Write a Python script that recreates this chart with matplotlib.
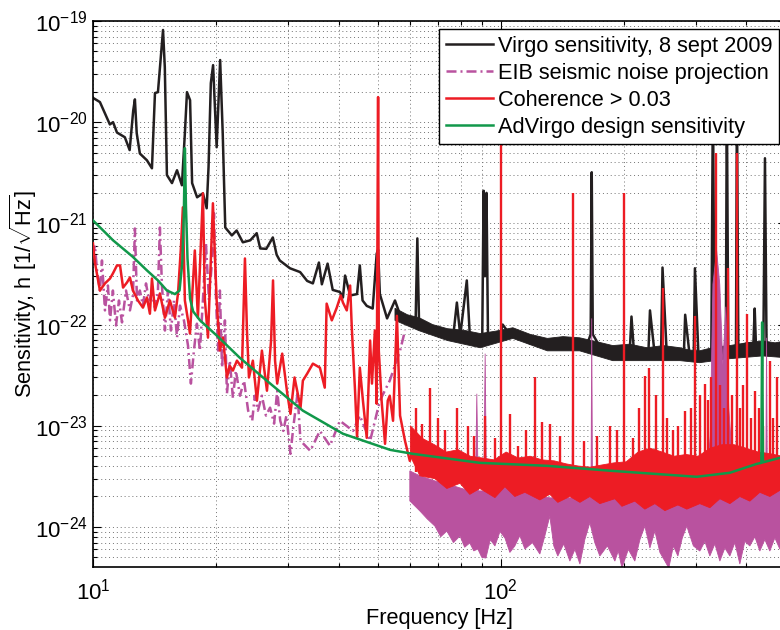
import numpy as np
import matplotlib
matplotlib.use("Agg")
import matplotlib.pyplot as plt
from matplotlib.ticker import NullFormatter

plt.rcParams['font.family'] = ['Liberation Sans', 'DejaVu Sans']
plt.rcParams['mathtext.fontset'] = 'custom'
plt.rcParams['mathtext.rm'] = 'Liberation Sans'
plt.rcParams['mathtext.it'] = 'Liberation Sans:italic'
plt.rcParams['mathtext.bf'] = 'Liberation Sans:bold'

BLACK = '#231f20'
PINK = '#b9529f'
RED = '#ed1c24'
GREEN = '#11984a'

# ---- Virgo sensitivity, 8 sept 2009 ----
virgo_f = [10.0, 10.4, 11.0, 11.2, 11.45, 11.97, 12.3, 12.55, 12.67, 12.8,
           13.03, 13.56, 13.95, 14.19, 14.43, 14.85, 15.0, 15.18, 15.62, 16.07,
           16.52, 16.8, 17.0, 17.3, 17.5, 18.0, 18.6, 19.0, 19.2, 19.45,
           19.7, 20.1, 20.5, 20.8, 21.1, 21.9, 22.5, 23.3, 24.3, 25.2,
           25.7, 26.6, 27.6, 28.2, 28.7, 30.4, 32.2, 33.5, 34.6, 35.8,
           36.4, 37.6, 38.7, 40.3, 41.0, 41.5, 42.7, 44.4, 45.1, 45.8,
           46.9, 48.5, 49.6, 50.0, 50.5, 52.6, 55.0, 56.6, 60.0, 61.8,
           62.4, 63.0, 67.0, 70.8, 73.7, 76.5, 78.0, 79.5, 82.5, 84.0,
           88.8, 90.0, 90.7, 91.4, 92.2, 93.0, 96.0, 100.0, 101.0, 104.0,
           107.0, 118.0, 130.0, 140.0, 150.0, 163.0, 166.0, 167.0, 168.0, 175.0,
           182.0, 188.0, 200.0, 207.0, 209.0, 212.0, 220.0, 230.0, 232.0, 238.0,
           247.0, 249.0, 255.0, 270.0, 281.0, 283.0, 290.0, 297.0, 299.0, 305.0,
           318.0, 328.0, 331.0, 334.0, 350.0, 356.0, 358.0, 361.0, 372.0, 377.0,
           379.0, 382.0, 400.0, 416.0, 419.0, 422.0, 440.0, 444.0, 448.0, 483.0,
           500.0]
virgo_h = [1.74e-20, 1.58e-20, 9.5e-21, 1.0e-20, 7.9e-21, 7.1e-21, 5.3e-21, 1.3e-20, 1.68e-20, 7.8e-21,
           4.9e-21, 4.2e-21, 3.5e-21, 1.94e-20, 1.98e-20, 8.15e-20, 3.5e-20, 3.0e-21, 2.5e-21, 3.35e-21,
           2.38e-21, 7.8e-21, 1.98e-20, 1.65e-20, 2.5e-21, 1.81e-21, 1.98e-21, 1.41e-21, 3.6e-21, 2.43e-20,
           3.66e-20, 5.65e-21, 4.11e-20, 7.8e-21, 9.1e-22, 7.6e-22, 8.5e-22, 6.5e-22, 6.8e-22, 8.0e-22,
           5.65e-22, 5.6e-22, 7.26e-22, 4.9e-22, 4.3e-22, 3.6e-22, 3.3e-22, 2.7e-22, 2.55e-22, 4.1e-22,
           2.5e-22, 4.0e-22, 2.2e-22, 2.1e-22, 1.85e-22, 3.05e-22, 1.94e-22, 2.0e-22, 3.84e-22, 1.73e-22,
           1.53e-22, 1.44e-22, 5.0e-22, 5.5e-22, 2.0e-22, 1.15e-22, 1.73e-22, 1.25e-22, 1.15e-22, 1.1e-22,
           7.1e-22, 1.05e-22, 9.2e-23, 8.5e-23, 8.0e-23, 8.0e-23, 1.65e-22, 7.8e-23, 2.73e-22, 7.2e-23,
           7.0e-23, 7.0e-23, 2.1e-21, 3.0e-22, 2.0e-21, 7.0e-23, 7.0e-23, 8.5e-23, 1.0e-22, 8.5e-23,
           8.2e-23, 6.5e-23, 6.3e-23, 6.5e-23, 6.4e-23, 6.5e-23, 8.0e-23, 3.2e-21, 8.0e-23, 6.0e-23,
           5.3e-23, 5.1e-23, 5.5e-23, 5.5e-23, 1.2e-22, 5.3e-23, 5.4e-23, 5.4e-23, 1.38e-22, 5.3e-23,
           5.3e-23, 3.66e-22, 5.2e-23, 5.3e-23, 5.3e-23, 1.25e-22, 5.1e-23, 5.1e-23, 3.6e-22, 5.0e-23,
           5.0e-23, 5.5e-23, 2.0e-20, 5.5e-23, 5.5e-23, 5.5e-23, 2.0e-20, 5.5e-23, 5.5e-23, 5.8e-23,
           2.0e-20, 6.0e-23, 6.5e-23, 6.5e-23, 1.44e-22, 6.2e-23, 6.2e-23, 4.4e-21, 6.2e-23, 5.7e-23,
           5.7e-23]
# noise band of the Virgo curve above 55 Hz
virgo_top_f = [55, 59, 63, 68, 74, 81, 89, 97, 107, 118, 130, 142, 156, 171, 188, 207,
               228, 250, 275, 290, 307, 335, 364, 400, 438, 470, 500]
virgo_top_h = [1.45e-22, 1.25e-22, 1.17e-22, 1.0e-22, 9.1e-23, 8.8e-23, 8.15e-23, 8.6e-23,
               9.3e-23, 8.0e-23, 7.3e-23, 7.6e-23, 7.4e-23, 6.8e-23, 6.2e-23, 6.4e-23,
               5.9e-23, 6.2e-23, 5.9e-23, 5.6e-23, 5.5e-23, 6.0e-23, 6.2e-23, 6.6e-23,
               6.9e-23, 6.6e-23, 6.9e-23]
virgo_bot_f = [55, 63, 74, 89, 107, 130, 156, 188, 228, 275, 307, 364, 438, 500]
virgo_bot_h = [1.1e-22, 8.7e-23, 6.95e-23, 5.9e-23, 7.3e-23, 5.5e-23, 5.5e-23,
               4.4e-23, 4.4e-23, 4.4e-23, 4.2e-23, 4.6e-23, 4.9e-23, 4.7e-23]

# ---- EIB seismic noise projection ----
eib_f = [10.0, 10.11, 10.23, 10.40, 10.52, 10.70, 10.88, 11.01, 11.19, 11.39,
         11.58, 11.78, 12.05, 12.32, 12.53, 12.67, 12.82, 13.03, 13.26, 13.49,
         13.72, 13.95, 14.19, 14.43, 14.59, 14.76, 15.01, 15.27, 15.53, 15.80,
         16.07, 16.34, 16.71, 17.10, 17.38, 17.68, 17.98, 18.29, 18.60, 18.92,
         19.25, 19.58, 19.80, 20.03, 20.26, 20.47, 20.72, 21.06, 21.30, 21.65,
         22.03, 22.40, 22.93, 23.46, 24.01, 24.57, 24.92, 25.37, 25.95, 26.55,
         27.17, 27.80, 28.29, 28.78, 29.28, 29.80, 30.49, 31.01, 31.72, 32.27,
         34.1, 36.0, 38.1, 40.3, 43.4, 45.1, 47.8, 50.5, 53.4, 56.6, 58.2]
eib_h = [4.82e-22, 6.05e-22, 3.43e-22, 2.17e-22, 4.3e-22, 1.38e-22, 2.43e-22, 1.10e-22, 2.17e-22, 9.8e-23,
         1.73e-22, 1.05e-22, 2.17e-22, 1.38e-22, 1.94e-22, 8.9e-22, 1.73e-22, 2.17e-22, 1.54e-22, 2.55e-22,
         1.73e-22, 2.03e-22, 1.47e-22, 2.17e-22, 9.1e-22, 2.43e-22, 8.73e-23, 2.17e-22, 8.73e-23, 1.73e-22,
         7.43e-23, 1.54e-22, 1.10e-22, 6.19e-23, 2.61e-23, 5.53e-23, 1.02e-22, 5.53e-23, 1.73e-22, 6.34e-22,
         1.73e-22, 4.3e-22, 1.26e-21, 1.73e-22, 5.53e-23, 2.17e-22, 3.75e-23, 1.10e-22, 2.07e-23, 4.40e-23,
         1.89e-23, 3.51e-23, 1.98e-23, 2.79e-23, 1.41e-23, 1.12e-23, 1.98e-23, 1.41e-23, 1.98e-23, 1.26e-23,
         1.51e-23, 1.05e-23, 2.22e-23, 1.12e-23, 8.9e-24, 1.26e-23, 5.28e-24, 1.0e-23, 2.07e-23, 7.1e-24,
         5.65e-24, 8.9e-24, 6.34e-24, 1.12e-23, 8.9e-24, 1.26e-23, 7.1e-24, 1.77e-23, 2.79e-23, 5.53e-23, 8.73e-23]
# dense part above 60 Hz: upper and lower envelopes
eib_top_f = [59.8, 63.3, 68.9, 73.7, 79.4, 83.9, 86.6, 87.3, 88.0, 90.8,
             91.5, 92.2, 96.7, 102.3, 108.2, 114.5, 124.6, 131.8, 137.9, 147.6,
             149.4, 150.1, 150.8, 156.2, 165.2, 166.3, 167.0, 167.7, 174.8, 190.3,
             198, 213, 225.4, 238.5, 252.4, 271.6, 285.6, 307.4, 320, 326,
             331, 338, 344, 350, 356, 362, 370, 377, 379, 381,
             385.3, 407.7, 431.3, 446, 448, 450, 456.4, 482.9, 500]
eib_top_h = [3.58e-24, 3.2e-24, 2.85e-24, 2.67e-24, 2.43e-24, 2.27e-24, 2.27e-24, 2.07e-23, 2.27e-24, 2.27e-24,
             5.16e-23, 2.27e-24, 2.27e-24, 2.55e-24, 2.55e-24, 2.27e-24, 2.03e-24, 1.94e-24, 1.94e-24, 1.94e-24,
             1.94e-24, 1.1e-22, 1.94e-24, 1.94e-24, 2.03e-24, 2.1e-24, 1.15e-22, 2.1e-24, 2.12e-24, 2.12e-24,
             2.12e-24, 2.27e-24, 2.27e-24, 2.27e-24, 2.03e-24, 1.89e-24, 1.81e-24, 2.03e-24, 3.0e-24, 8.0e-24,
             2.5e-22, 5.4e-22, 2.5e-22, 4.0e-23, 1.5e-22, 1.5e-23, 4.0e-24, 3.5e-24, 3.43e-22, 3.5e-24,
             2.85e-24, 2.55e-24, 2.67e-24, 2.85e-24, 7.4e-23, 2.85e-24, 2.85e-24, 3.05e-24, 3.05e-24]
eib_bot_f = [59.8, 63.3, 66.0, 68.9, 71.2, 73.7, 76.5, 79.4, 81.5, 83.9,
             85.8, 87.8, 89.8, 91.9, 94.2, 96.7, 99.5, 102.3, 105.2, 108.2,
             111.3, 114.5, 119.5, 124.6, 128.0, 131.8, 134.8, 137.9, 142.6, 147.6,
             151.9, 156.2, 160.6, 165.2, 169.9, 174.8, 182.4, 190.3, 194.0, 198,
             205.3, 213, 219.2, 225.4, 231.9, 238.5, 245.4, 252.4, 258, 264.8,
             271.6, 278.5, 285.6, 296.4, 307.4, 316.3, 325.3, 334.6, 344.2, 354.0,
             364.2, 374.6, 385.3, 396.3, 407.7, 419.4, 431.3, 443.7, 456.4, 469.5,
             482.9, 500]
eib_bot_h = [1.81e-24, 1.44e-24, 1.2e-24, 1.02e-24, 8.0e-25, 9.1e-25, 7.0e-25, 8.15e-25, 6.3e-25, 6.95e-25,
             5.8e-25, 6.05e-25, 5.0e-25, 4.93e-25, 7.5e-25, 6.49e-25, 9.0e-25, 7.78e-25, 5.6e-25, 6.49e-25,
             8.2e-25, 6.05e-25, 7.0e-25, 5.4e-25, 8.0e-25, 1.28e-24, 6.5e-25, 5.16e-25, 6.8e-25, 4.6e-25,
             6.0e-25, 4.3e-25, 7.5e-25, 1.1e-24, 7.0e-25, 5.16e-25, 6.5e-25, 4.6e-25, 5.8e-25, 3.93e-25,
             6.0e-25, 4.6e-25, 7.5e-25, 1.02e-24, 6.2e-25, 9.1e-25, 5.6e-25, 4.6e-25, 3.93e-25, 6.5e-25,
             5.16e-25, 7.8e-25, 1.02e-24, 6.5e-25, 5.78e-25, 7.2e-25, 5.16e-25, 6.8e-25, 4.6e-25, 6.2e-25,
             5.16e-25, 7.0e-25, 4.3e-25, 7.2e-25, 6.49e-25, 8.0e-25, 5.78e-25, 7.5e-25, 5.78e-25, 7.8e-25,
             6.05e-25, 6.05e-25]

# ---- Coherence > 0.03 ----
coh_f = [10.0, 10.11, 10.40, 10.70, 11.01, 11.19, 11.45, 11.65, 11.85, 12.12,
         12.32, 12.53, 12.89, 13.26, 13.56, 13.79, 13.95, 14.19, 14.59, 15.01,
         15.44, 15.88, 16.16, 16.43, 16.61, 16.80, 17.10, 17.29, 17.77, 18.08,
         18.60, 18.81, 19.14, 19.68, 20.10, 20.47, 20.83, 21.30, 21.65, 22.03,
         22.54, 23.19, 23.58, 23.85, 24.12, 24.66, 25.23, 25.95, 26.70, 27.33,
         27.63, 27.95, 28.29, 29.1, 29.95, 30.49, 31.2, 32.27, 32.7, 33.5,
         34.6, 36.0, 37.0, 37.4, 38.5, 39.6, 40.5, 41.0, 41.9, 42.7,
         43.1, 43.9, 44.4, 45.1, 45.9, 46.9, 47.8, 48.3, 49.1, 49.6,
         50.0, 50.2, 51.0, 52.0, 52.8, 53.4, 54.4, 55.6, 56.6, 58.2,
         59.8, 61.0]
coh_h = [6.34e-22, 4.11e-22, 2.17e-22, 2.55e-22, 2.85e-22, 3.2e-22, 3.84e-22, 3.84e-22, 2.32e-22, 2.61e-22,
         2.92e-22, 2.17e-22, 1.73e-22, 1.47e-22, 1.85e-22, 1.28e-22, 2.85e-22, 1.38e-22, 2.03e-22, 1.17e-22,
         1.73e-22, 1.17e-22, 2.03e-22, 5.78e-22, 1.44e-21, 1.73e-22, 1.10e-22, 8.15e-23, 5.4e-22, 1.17e-22,
         1.98e-21, 1.73e-22, 7.43e-23, 1.58e-21, 1.73e-22, 5.53e-23, 7.43e-23, 3.0e-23, 3.9e-23, 3.51e-23,
         4.4e-23, 3.75e-23, 4.5e-22, 8.73e-23, 3.0e-23, 4.4e-23, 1.77e-23, 5.53e-23, 2.22e-23, 6.95e-23,
         2.73e-22, 4.4e-23, 2.61e-23, 5.16e-23, 2.07e-23, 1.31e-23, 3.0e-23, 1.51e-23, 2.79e-23, 3.27e-23,
         4.11e-23, 3.75e-23, 2.38e-23, 1.61e-22, 1.10e-22, 1.47e-22, 1.94e-22, 1.65e-22, 1.38e-22, 2.43e-22,
         9.3e-23, 2.22e-23, 7.6e-24, 3.75e-23, 1.77e-23, 7.6e-24, 6.95e-23, 2.61e-23, 8.73e-23, 1.65e-23,
         1.77e-20, 5.53e-23, 1.77e-23, 6.63e-24, 1.77e-23, 1.98e-23, 1.12e-23, 1.22e-22, 1.26e-23, 7.1e-24,
         4.5e-24, 6.0e-24]
# dense part above 60 Hz: upper and lower envelopes
coh_top_f = [60, 64.2, 68.7, 73.5, 78.6, 84.1, 90, 96.3, 103, 110.3,
             118, 126.2, 135.1, 144.6, 154.7, 165.5, 177.1, 189.5, 202.8, 217,
             232.2, 248.5, 265.9, 284.5, 304.4, 325.8, 348.6, 373, 399.2, 427.2,
             457.1, 489.2, 500]
coh_top_h = [1.0e-23, 7.5e-24, 6.5e-24, 5.5e-24, 5.8e-24, 5.0e-24, 4.8e-24, 4.6e-24, 5.5e-24, 4.8e-24,
             5.0e-24, 4.6e-24, 4.5e-24, 4.2e-24, 4.0e-24, 3.9e-24, 4.1e-24, 4.3e-24, 4.4e-24, 5.5e-24,
             6.0e-24, 5.5e-24, 5.0e-24, 5.2e-24, 5.0e-24, 6.0e-24, 6.5e-24, 6.5e-24, 6.0e-24, 5.5e-24,
             5.3e-24, 5.0e-24, 5.0e-24]
coh_bot_f = [60, 63.3, 68.9, 73.7, 79.4, 83.9, 88.8, 96.7, 102.3, 108.2,
             114.5, 124.6, 131.8, 137.9, 147.6, 156.2, 165.2, 174.8, 190.3, 198,
             213, 225.4, 238.5, 252.4, 271.6, 285.6, 307.4, 325.3, 344.2, 364.2,
             385.3, 407.7, 431.3, 456.4, 482.9, 500]
coh_bot_h = [5.0e-24, 3.2e-24, 3.0e-24, 2.4e-24, 2.7e-24, 2.1e-24, 2.4e-24, 1.95e-24, 2.5e-24, 2.0e-24,
             2.2e-24, 1.85e-24, 2.1e-24, 1.75e-24, 2.0e-24, 1.75e-24, 2.0e-24, 1.7e-24, 1.9e-24, 1.6e-24,
             1.8e-24, 1.5e-24, 1.7e-24, 1.45e-24, 1.65e-24, 1.5e-24, 1.7e-24, 1.55e-24, 1.9e-24, 1.7e-24,
             2.0e-24, 1.8e-24, 2.2e-24, 2.0e-24, 2.3e-24, 2.2e-24]
# narrow coherent lines above 60 Hz (peak values), rising from the dense part
coh_line_base = 3.5e-24
coh_line_f = [62.0, 64.0, 67.0, 70.0, 73.0, 78.0, 83.0, 86.0, 91.5, 96.5,
              100.0, 105.0, 110.3, 115.0, 121.0, 126.0, 131.8, 140.0, 150.1, 160.0,
              172.0, 185.0, 193.0, 200.0, 210.6, 218.0, 225.4, 230.5, 240.0, 249.0,
              256.0, 264.0, 272.0, 283.0, 292.0, 299.0, 308.0, 316.0, 322.0, 328.0,
              337.0, 345.0, 352.0, 360.0, 368.0, 379.0, 385.0, 392.0, 401.0, 410.0,
              419.0, 430.0, 440.0, 456.0, 465.0, 475.0, 488.0]
coh_line_h = [1.5e-23, 1.05e-23, 2.38e-23, 1.2e-23, 9.0e-24, 1.51e-23, 1.0e-23, 8.0e-24, 1.26e-23, 7.6e-24,
              1.5e-20, 1.3e-23, 6.3e-24, 9.0e-24, 3.0e-23, 1.1e-23, 1.05e-23, 8.0e-24, 2.0e-21, 7.0e-24,
              8.0e-24, 1.0e-23, 9.0e-24, 2.0e-21, 7.6e-24, 1.5e-23, 3.1e-23, 3.75e-23, 2.0e-23, 2.3e-22,
              1.2e-23, 9.0e-24, 1.0e-23, 1.41e-23, 1.5e-23, 1.22e-22, 2.0e-23, 2.61e-23, 1.8e-23, 3.0e-23,
              5.0e-21, 2.5e-23, 1.5e-23, 3.66e-22, 2.0e-23, 5.0e-21, 1.5e-23, 2.5e-23, 1.28e-22, 1.2e-23,
              2.2e-23, 1.5e-23, 1.0e-23, 4.4e-23, 1.2e-23, 3.0e-23, 9.0e-24]

# ---- AdVirgo design sensitivity ----
adv_f = [10.0, 11.2, 12.5, 13.56, 14.43, 15.18, 15.88, 16.3, 16.55, 16.7,
         16.8, 16.9, 17.05, 17.3, 17.6, 18.3, 20.1, 22.9, 27.2, 32.7,
         41.0, 53.5, 60.8, 88.8, 129.6, 188.0, 302.0, 364.0, 424.0, 435.0,
         437.0, 439.0, 483.0, 500.0]
adv_h = [1.07e-21, 6.8e-22, 4.7e-22, 3.43e-22, 2.73e-22, 2.17e-22, 2.0e-22, 2.17e-22, 4.0e-22, 1.2e-21,
         5.53e-21, 1.5e-21, 4.5e-22, 1.8e-22, 1.35e-22, 1.1e-22, 7.8e-23, 4.7e-23, 2.61e-23, 1.41e-23,
         8.34e-24, 5.78e-24, 5.28e-24, 4.3e-24, 4.02e-24, 3.58e-24, 3.13e-24, 3.43e-24, 4.2e-24, 4.3e-24,
         1.05e-22, 4.35e-24, 4.82e-24, 5.0e-24]

x_ticks = [10, 100]
y_ticks = [1e-24, 1e-23, 1e-22, 1e-21, 1e-20, 1e-19]


def envelope(ax, f_top, h_top, f_bot, h_bot, color):
    # closed outline: along the upper envelope, back along the lower one
    xs = np.concatenate([f_top, f_bot[::-1]])
    ys = np.concatenate([h_top, h_bot[::-1]])
    ax.fill(xs, ys, color=color, lw=0.6, zorder=2)


fig = plt.figure(figsize=(7.8, 6.3), dpi=100)
ax = fig.add_axes([0.1192, 0.1, 0.8885, 0.8667])
ax.set_xscale('log')
ax.set_yscale('log')

lw = 1.8
ax.plot(virgo_f, virgo_h, color=BLACK, lw=lw, zorder=2,
        label='Virgo sensitivity, 8 sept 2009')
envelope(ax, np.array(virgo_top_f), np.array(virgo_top_h),
         np.array(virgo_bot_f), np.array(virgo_bot_h), BLACK)

ax.plot(eib_f, eib_h, color=PINK, lw=lw, ls=(0, (4, 1.6, 0.8, 1.6)), zorder=3,
        label='EIB seismic noise projection')
envelope(ax, np.array(eib_top_f), np.array(eib_top_h),
         np.array(eib_bot_f), np.array(eib_bot_h), PINK)

ax.plot(coh_f, coh_h, color=RED, lw=lw, zorder=4, label='Coherence > 0.03')
envelope(ax, np.array(coh_top_f), np.array(coh_top_h),
         np.array(coh_bot_f), np.array(coh_bot_h), RED)
ax.vlines(coh_line_f, coh_line_base, coh_line_h, color=RED, lw=1.7, zorder=4)

ax.plot(adv_f, adv_h, color=GREEN, lw=lw, zorder=5,
        label='AdVirgo design sensitivity')

ax.set_xlim(10, 500)
ax.set_ylim(4.02e-25, 1e-19)
ax.set_xticks(x_ticks)
ax.set_yticks(y_ticks)

ax.grid(True, which='both', ls=(0, (1, 3)), color='0.45', lw=0.7)
ax.set_axisbelow(True)
ax.xaxis.set_minor_formatter(NullFormatter())
ax.yaxis.set_minor_formatter(NullFormatter())
ax.tick_params(which='both', direction='in', top=True, right=True,
               labelsize=16, width=0.8)
ax.tick_params(which='major', length=6)
ax.tick_params(axis='x', which='major', pad=8)
ax.tick_params(axis='y', which='major', pad=4)
ax.tick_params(which='minor', length=3)
for s in ax.spines.values():
    s.set_linewidth(1.2)

ax.set_xlabel('Frequency [Hz]', fontsize=15.7, labelpad=3)
ax.set_ylabel(r'Sensitivity, h [1/$\sqrt{\mathrm{Hz}}$]', fontsize=15.7)
ax.yaxis.set_label_coords(-0.078, 0.5)

leg = ax.legend(loc='upper right', bbox_to_anchor=(779 / 780, 601 / 630),
                bbox_transform=fig.transFigure, borderaxespad=0,
                fontsize=15.7, frameon=True, fancybox=False, framealpha=1,
                edgecolor='black', handlelength=2.15, handletextpad=0.25,
                labelspacing=0.28, borderpad=0.3)
leg.get_frame().set_linewidth(1.0)
leg.set_zorder(10)

fig.savefig('out.png', dpi=100)
